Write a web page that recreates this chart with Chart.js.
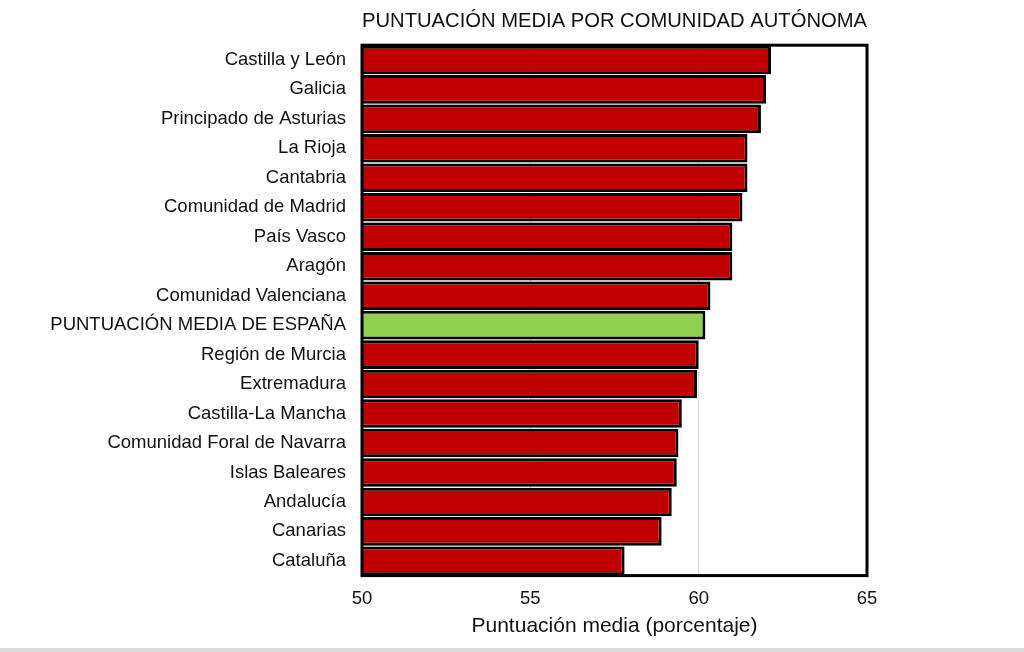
<!DOCTYPE html>
<html>
<head>
<meta charset="utf-8">
<script src="https://cdn.jsdelivr.net/npm/chart.js@4"></script>
<style>
  html, body { margin: 0; padding: 0; background: #fff; }
  #wrap { width: 1024px; height: 648px; position: relative; }
  #band { width: 1024px; height: 4px; background: #dcdcdc; }
</style>
</head>
<body>
<div id="wrap"><canvas id="chartComunidades"></canvas></div>
<div id="band"></div>
<script>
var comunidades = [
    'Castilla y León', 'Galicia', 'Principado de Asturias', 'La Rioja', 'Cantabria',
    'Comunidad de Madrid', 'País Vasco', 'Aragón', 'Comunidad Valenciana',
    'PUNTUACIÓN MEDIA DE ESPAÑA', 'Región de Murcia', 'Extremadura', 'Castilla-La Mancha',
    'Comunidad Foral de Navarra', 'Islas Baleares', 'Andalucía', 'Canarias', 'Cataluña'
];
var puntuaciones = [62.15, 62.0, 61.85, 61.45, 61.45, 61.3, 61.0, 61.0, 60.35, 60.2,
                    60.0, 59.95, 59.5, 59.4, 59.35, 59.2, 58.9, 57.8];
var ticksX = [50, 55, 60, 65];

var cores = comunidades.map(function (c) {
    return c === 'PUNTUACIÓN MEDIA DE ESPAÑA' ? '#92d050' : '#c00000';
});

// marco negro alrededor del área del gráfico
var marco = {
    id: 'marco',
    afterDatasetsDraw: function (chart) {
        var a = chart.chartArea, ctx = chart.ctx;
        ctx.save();
        ctx.strokeStyle = '#000';
        ctx.lineWidth = 3;
        ctx.strokeRect(a.left, a.top, a.right - a.left, a.bottom - a.top);
        ctx.restore();
    }
};

Chart.defaults.font.family = "'Liberation Sans', Arial, sans-serif";
Chart.defaults.color = '#111';

new Chart(document.getElementById('chartComunidades'), {
    type: 'bar',
    data: {
        labels: comunidades,
        datasets: [{
            data: puntuaciones,
            backgroundColor: cores,
            borderColor: '#000',
            borderWidth: 3,
            barPercentage: 0.97,
            categoryPercentage: 1
        }]
    },
    options: {
        indexAxis: 'y',
        responsive: true,
        maintainAspectRatio: false,
        animation: false,
        layout: { padding: { left: 0, right: 157, top: 0, bottom: 9 } },
        plugins: {
            legend: { display: false },
            tooltip: { enabled: false },
            title: {
                display: true,
                fullSize: false,
                text: 'PUNTUACIÓN MEDIA POR COMUNIDAD AUTÓNOMA',
                font: { size: 21, weight: 'normal' },
                color: '#111',
                padding: { top: 9, bottom: 11 }
            }
        },
        scales: {
            x: {
                min: 50,
                max: 65,
                afterBuildTicks: function (s) {
                    s.ticks = ticksX.map(function (v) { return { value: v }; });
                },
                grid: { color: '#d9d9d9', drawTicks: false, lineWidth: 1 },
                border: { display: false },
                ticks: { font: { size: 18.5 }, padding: 12 },
                title: {
                    display: true,
                    text: 'Puntuación media (porcentaje)',
                    font: { size: 21 },
                    padding: { top: -8, bottom: 0 }
                }
            },
            y: {
                grid: { display: false, drawTicks: false },
                border: { display: false },
                ticks: { font: { size: 18.5 }, padding: 16 },
                afterFit: function (s) { s.width = 362; }
            }
        }
    },
    plugins: [marco]
});
</script>
</body>
</html>
